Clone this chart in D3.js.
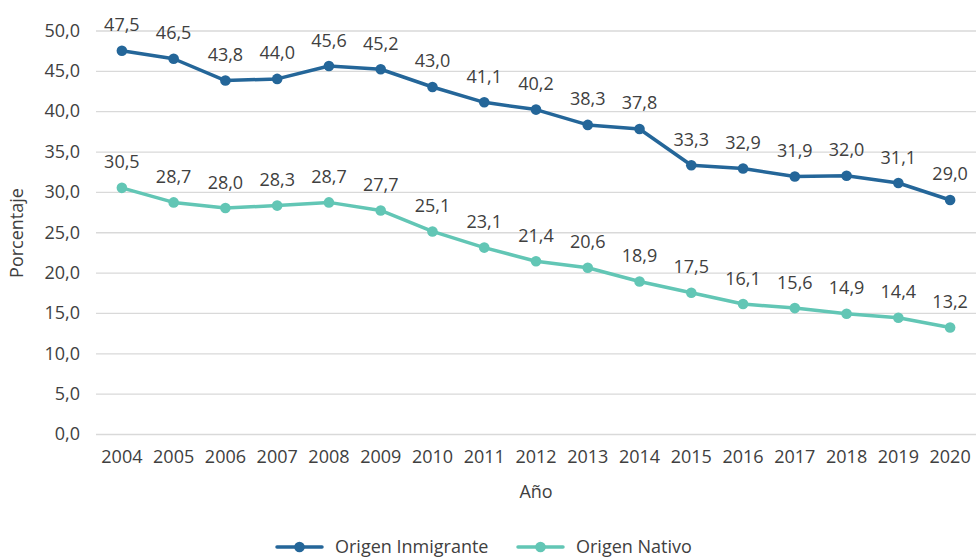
<!DOCTYPE html>
<html><head><meta charset="utf-8">
<script src="https://cdn.jsdelivr.net/npm/d3@7"></script>
<style>body{margin:0;background:#fff}svg{display:block}text{font-family:"Open Sans","Noto Sans",sans-serif;fill:#404040}</style>
</head><body><svg id="c" width="976" height="557"></svg>
<script>
const years = ["2004","2005","2006","2007","2008","2009","2010","2011","2012","2013","2014","2015","2016","2017","2018","2019","2020"];
const inmigrante = [47.5,46.5,43.8,44.0,45.6,45.2,43.0,41.1,40.2,38.3,37.8,33.3,32.9,31.9,32.0,31.1,29.0];
const nativo = [30.5,28.7,28.0,28.3,28.7,27.7,25.1,23.1,21.4,20.6,18.9,17.5,16.1,15.6,14.9,14.4,13.2];
const yTicks = [0,5,10,15,20,25,30,35,40,45,50];
const seriesNames = ["Origen Inmigrante","Origen Nativo"];
const colors = ["#246699","#62C6B5"];

const FS = 18;
const svg = d3.select("#c");
const fmt = v => v.toFixed(1).replace(".", ",");
const x = d3.scaleBand().domain(years).range([96,976]);
const y = d3.scaleLinear().domain([0,50]).range([434,30.5]);

const gy = svg.append("g").attr("transform","translate(96,0)")
  .call(d3.axisLeft(y).tickValues(yTicks).tickFormat(fmt).tickSize(-880).tickPadding(16));
gy.select(".domain").remove();
gy.selectAll("line").attr("stroke","#d9d9d9").attr("stroke-width",1.3);
gy.selectAll("text").attr("font-size",FS).style("fill","#404040");

const gx = svg.append("g").attr("transform","translate(0,434)")
  .call(d3.axisBottom(x).tickSize(0).tickPadding(16));
gx.select(".domain").remove();
gx.selectAll("text").attr("font-size",FS).style("fill","#404040");

svg.append("text").attr("x",536).attr("y",498).attr("text-anchor","middle").attr("font-size",FS).text("Año");
svg.append("text").attr("transform","translate(23,233) rotate(-90)").attr("text-anchor","middle").attr("font-size",FS).text("Porcentaje");

const line = d3.line().x((d,i)=>x(years[i])+x.bandwidth()/2).y(d=>y(d));
[inmigrante,nativo].forEach((s,k)=>{
  const g = svg.append("g");
  g.append("path").datum(s).attr("d",line).attr("fill","none").attr("stroke",colors[k]).attr("stroke-width",3.5).attr("stroke-linejoin","round");
  g.selectAll("circle").data(s).join("circle")
    .attr("cx",(d,i)=>x(years[i])+x.bandwidth()/2).attr("cy",d=>y(d)).attr("r",5.3).attr("fill",colors[k]);
  g.selectAll("text").data(s).join("text")
    .attr("x",(d,i)=>x(years[i])+x.bandwidth()/2).attr("y",d=>y(d)-19.5)
    .attr("text-anchor","middle").attr("font-size",FS).text(fmt);
});

const legX = [277,518];
seriesNames.forEach((n,k)=>{
  const g = svg.append("g");
  g.append("line").attr("x1",legX[k]).attr("x2",legX[k]+45).attr("y1",547).attr("y2",547).attr("stroke",colors[k]).attr("stroke-width",3.5).attr("stroke-linecap","round");
  g.append("circle").attr("cx",legX[k]+22.5).attr("cy",547).attr("r",5.3).attr("fill",colors[k]);
  g.append("text").attr("x",legX[k]+58).attr("y",553).attr("font-size",FS).text(n);
});
</script></body></html>
